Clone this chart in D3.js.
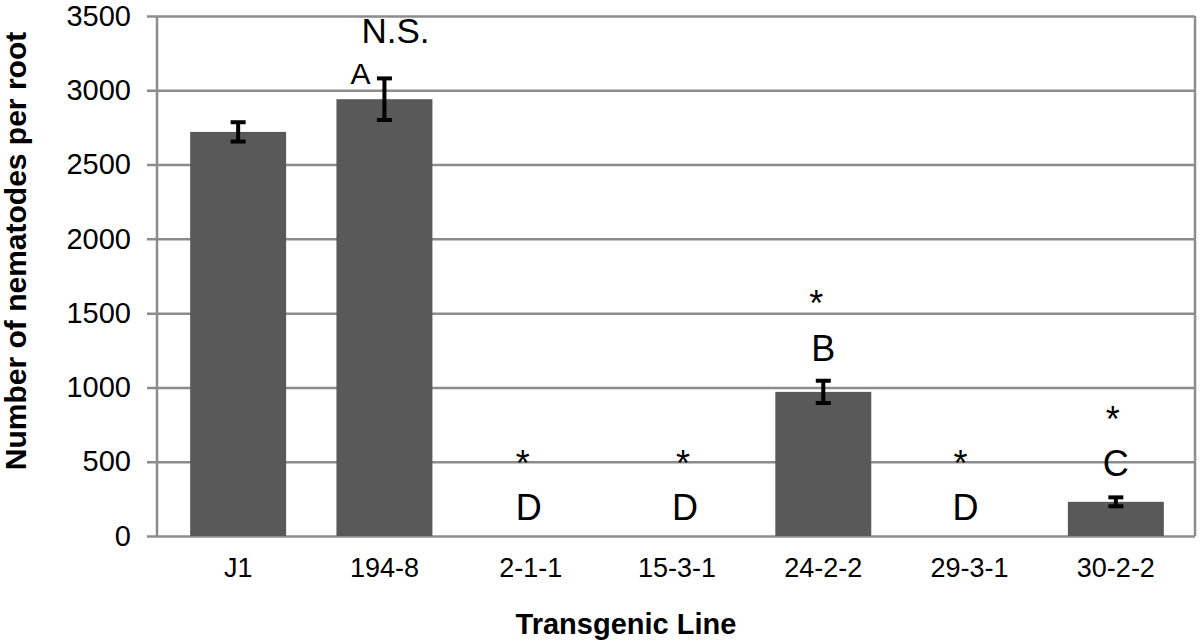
<!DOCTYPE html>
<html>
<head>
<meta charset="utf-8">
<script src="https://cdn.jsdelivr.net/npm/d3@7.9.0/dist/d3.min.js"></script>
<style>
  body { margin: 0; background: #fff; }
  svg { display: block; font-family: "Liberation Sans", Arial, Helvetica, sans-serif; }
</style>
</head>
<body>
<svg id="chart" width="1200" height="641"></svg>
<script>
// data
const lines = ['J1', '194-8', '2-1-1', '15-3-1', '24-2-2', '29-3-1', '30-2-2'];
const means = [2720, 2940, 0, 0, 970, 0, 230];
const errors = [65, 140, 0, 0, 75, 0, 30];
const yTicks = [0, 500, 1000, 1500, 2000, 2500, 3000, 3500];

// annotations: category, text, height (in nematode units) of the text baseline
const letters = [
  { line: '194-8', text: 'A', at: 3042 },
  { line: '2-1-1', text: 'D', at: 108 },
  { line: '15-3-1', text: 'D', at: 108 },
  { line: '24-2-2', text: 'B', at: 1178 },
  { line: '29-3-1', text: 'D', at: 108 },
  { line: '30-2-2', text: 'C', at: 404 }
];
const stars = [
  { line: '2-1-1', at: 444 },
  { line: '15-3-1', at: 444 },
  { line: '24-2-2', at: 1521 },
  { line: '29-3-1', at: 444 },
  { line: '30-2-2', at: 740 }
];
const nsLabel = { line: '194-8', text: 'N.S.', at: 3318 };

// hand-placed nudges of the annotations in the original (px)
const letterNudge = { '194-8': -24, '2-1-1': -2, '15-3-1': 8, '29-3-1': -4 };
const starNudge = { '2-1-1': -8, '15-3-1': 6, '24-2-2': -7, '29-3-1': -9, '30-2-2': -3 };

const svg = d3.select('#chart');

const axisX = 157, rightX = 1195, tickStart = 147;

const x = d3.scaleBand()
  .domain(lines)
  .range([165, 1189])
  .paddingInner(0.344)
  .paddingOuter(0.172);

const y = d3.scaleLinear().domain([0, 3500]).range([536, 16]);

const grey = '#8c8c8c';

// gridlines + y tick labels
const yAxis = svg.append('g')
  .attr('transform', `translate(${tickStart},0)`)
  .call(d3.axisLeft(y).tickValues(yTicks).tickFormat(d3.format('d'))
    .tickSize(-(rightX - tickStart)).tickPadding(16));
yAxis.select('.domain').remove();
yAxis.selectAll('.tick line').attr('stroke', grey).attr('stroke-width', 2.5);
yAxis.selectAll('.tick text')
  .attr('fill', '#000')
  .style('font-size', '29px')
  .style('font-family', '"Liberation Sans", Arial, sans-serif');

// left axis line and right border
svg.append('line')
  .attr('x1', axisX).attr('x2', axisX)
  .attr('y1', y(3500)).attr('y2', y(0))
  .attr('stroke', grey).attr('stroke-width', 2.5);
svg.append('line')
  .attr('x1', rightX).attr('x2', rightX)
  .attr('y1', y(3500)).attr('y2', y(0))
  .attr('stroke', grey).attr('stroke-width', 2.5);

// bars
svg.append('g').selectAll('rect')
  .data(lines)
  .join('rect')
  .attr('x', d => x(d))
  .attr('width', x.bandwidth())
  .attr('y', (d, i) => y(means[i]))
  .attr('height', (d, i) => y(0) - y(means[i]))
  .attr('fill', '#595959');

// error bars
const errG = svg.append('g').attr('stroke', '#000').attr('stroke-width', 4);
lines.forEach((d, i) => {
  if (!errors[i]) return;
  const cx = x(d) + x.bandwidth() / 2;
  const top = y(means[i] + errors[i]);
  const bot = y(means[i] - errors[i]);
  errG.append('line').attr('x1', cx).attr('x2', cx).attr('y1', top).attr('y2', bot);
  errG.append('line').attr('x1', cx - 7.5).attr('x2', cx + 7.5).attr('y1', top).attr('y2', top);
  errG.append('line').attr('x1', cx - 7.5).attr('x2', cx + 7.5).attr('y1', bot).attr('y2', bot);
});

// x axis labels
const xAxis = svg.append('g')
  .attr('transform', `translate(0,${y(0)})`)
  .call(d3.axisBottom(x).tickSize(0).tickPadding(22));
xAxis.select('.domain').remove();
xAxis.selectAll('.tick text')
  .attr('fill', '#000')
  .style('font-size', '27px')
  .style('font-family', '"Liberation Sans", Arial, sans-serif');

const center = d => x(d) + x.bandwidth() / 2;

// letter groups
svg.append('g').selectAll('text')
  .data(letters)
  .join('text')
  .attr('x', d => center(d.line) + (letterNudge[d.line] || 0))
  .attr('y', d => y(d.at))
  .attr('text-anchor', 'middle')
  .style('font-size', d => d.text === 'A' ? '30px' : '36px')
  .text(d => d.text);

// significance stars
svg.append('g').selectAll('text')
  .data(stars)
  .join('text')
  .attr('x', d => center(d.line) + (starNudge[d.line] || 0))
  .attr('y', d => y(d.at))
  .attr('dy', 6)
  .attr('text-anchor', 'middle')
  .style('font-size', '36px')
  .text('*');

svg.append('text')
  .attr('x', center(nsLabel.line) + 11)
  .attr('y', y(nsLabel.at))
  .attr('text-anchor', 'middle')
  .style('font-size', '35px')
  .text(nsLabel.text);

// axis titles
svg.append('text')
  .attr('transform', 'translate(26,251) rotate(-90)')
  .attr('text-anchor', 'middle')
  .style('font-size', '30px')
  .style('font-weight', 'bold')
  .text('Number of nematodes per root');

svg.append('text')
  .attr('x', 626)
  .attr('y', 634)
  .attr('text-anchor', 'middle')
  .style('font-size', '29px')
  .style('font-weight', 'bold')
  .text('Transgenic Line');
</script>
</body>
</html>
